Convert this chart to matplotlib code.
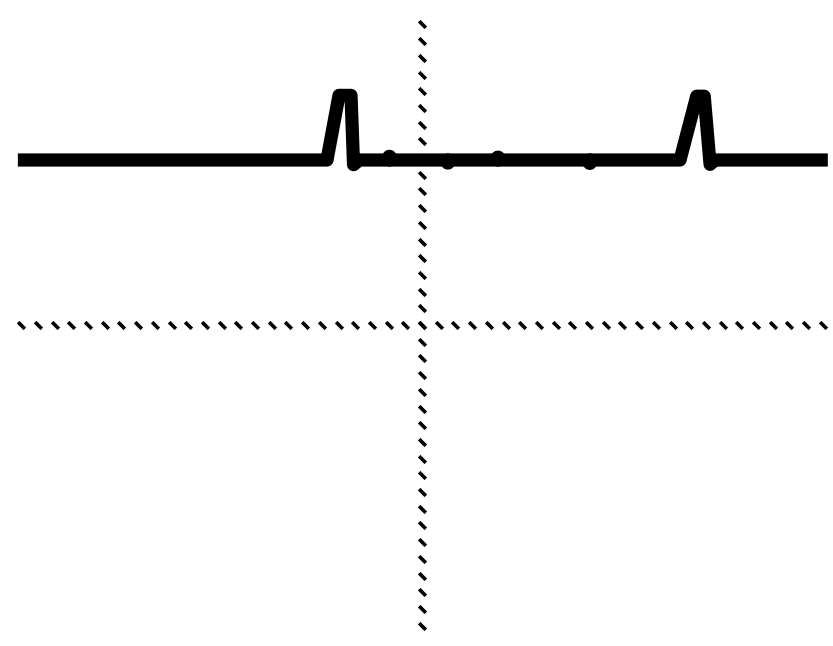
import matplotlib
matplotlib.use("Agg")
import matplotlib.pyplot as plt
import numpy as np
from matplotlib.path import Path

# scope trace, in graticule units (1 unit = one minor mark, 5 per division)
trace_t = [-24.2, -5.69, -4.97, -4.25, -4.1, -3.75, -2.0, -1.97, -1.93, -1.9,
           1.5, 1.53, 1.57, 1.6, 4.5, 4.53, 4.57, 4.6, 10.0, 10.03, 10.07, 10.1,
           15.45, 16.45, 16.9, 17.25, 17.54, 24.3]
trace_v = [9.88, 9.88, 13.75, 13.75, 9.6, 9.88, 9.88, 10.1, 10.1, 9.88,
           9.88, 9.7, 9.7, 9.88, 9.88, 10.05, 10.05, 9.88, 9.88, 9.68, 9.68, 9.88,
           9.88, 13.7, 13.7, 9.62, 9.88, 9.88]

# graticule marks along the centre axes
h_marks = np.arange(-24, 25)
v_marks = np.arange(-18, 19)

slash = Path([(-1, 1), (1, -1)], [Path.MOVETO, Path.LINETO])

fig = plt.figure(figsize=(8.33, 6.46), dpi=100)
ax = fig.add_axes([0, 0, 1, 1])
ax.set_xlim(-422 / 16.7, (833 - 422) / 16.7)
ax.set_ylim(-(646 - 325) / 16.7, 325 / 16.7)

ax.plot(h_marks, np.zeros_like(h_marks), linestyle="none", marker=slash,
        markersize=4.8, markeredgewidth=2.6, color="black")
ax.plot(np.zeros_like(v_marks), v_marks, linestyle="none", marker=slash,
        markersize=4.8, markeredgewidth=2.6, color="black")

ax.plot(trace_t, trace_v, color="black", linewidth=9.5,
        solid_joinstyle="round", solid_capstyle="butt")

ax.axis("off")
fig.savefig("out.png", dpi=100, facecolor="white")
